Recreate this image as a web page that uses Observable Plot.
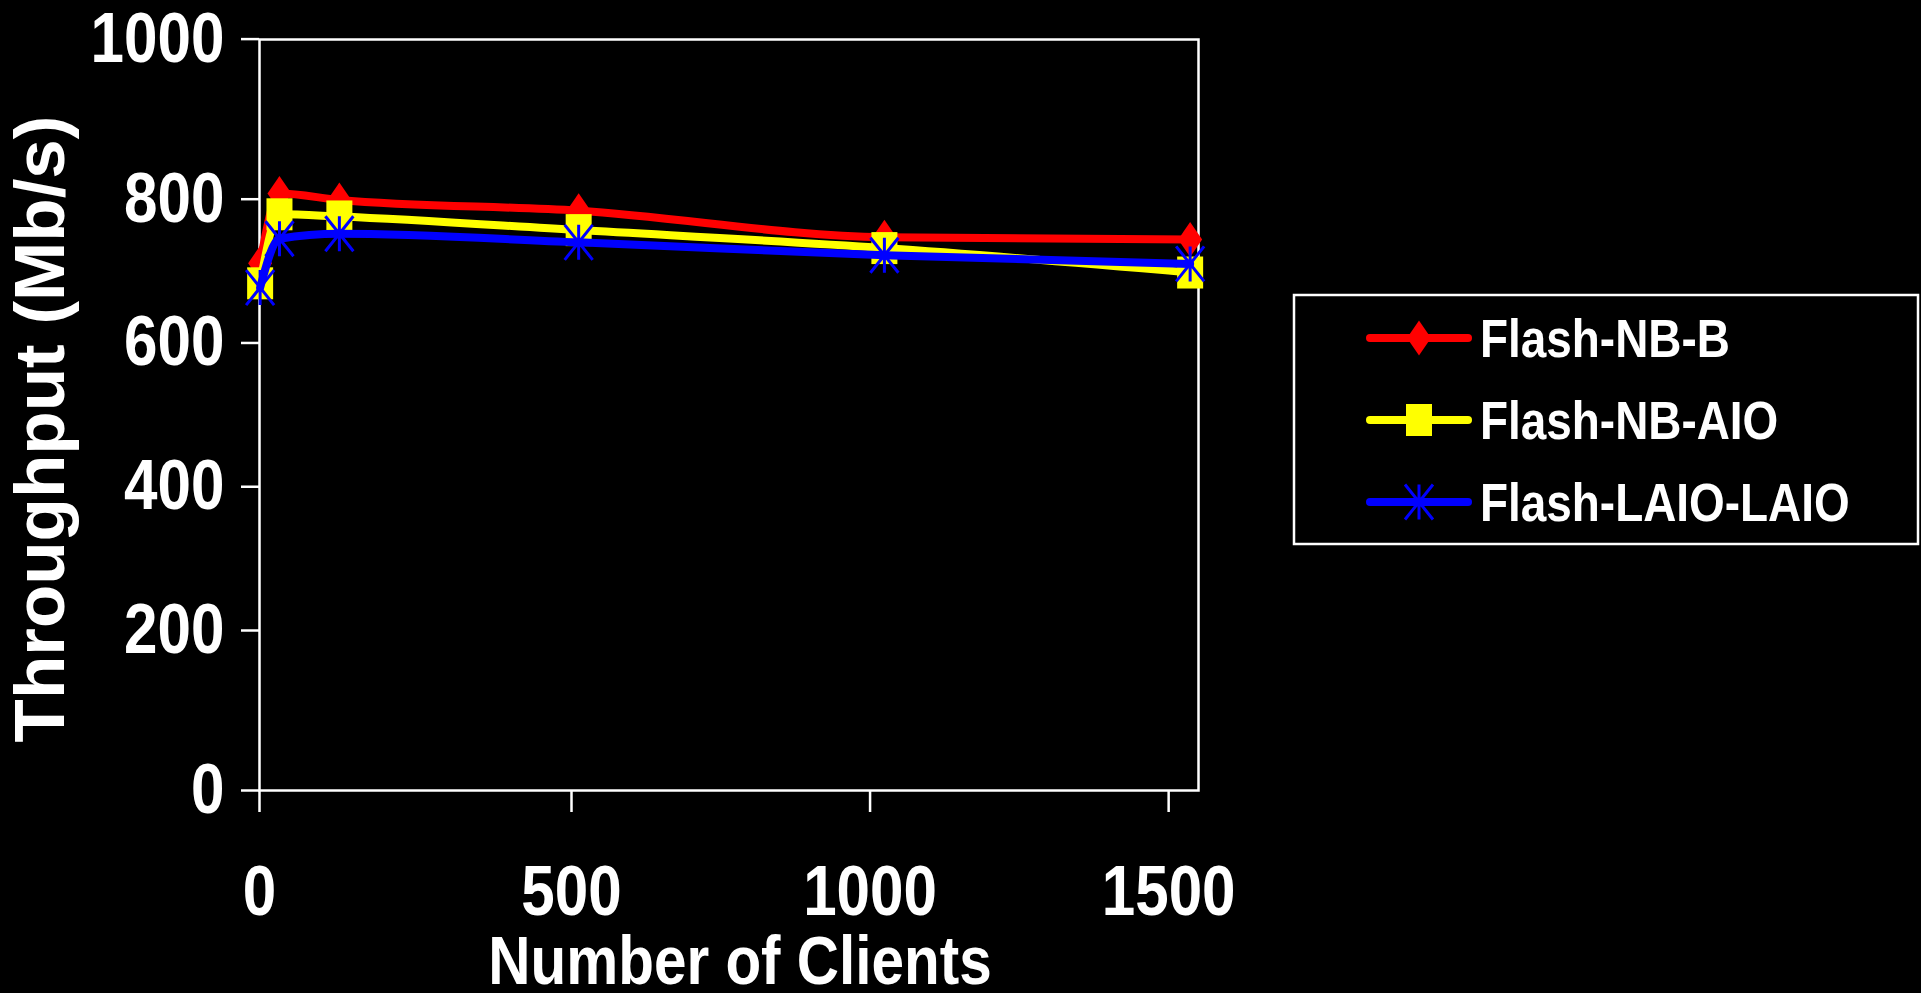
<!DOCTYPE html>
<html><head><meta charset="utf-8">
<style>
html,body{margin:0;padding:0;background:#000;}
#wrap{position:relative;width:1921px;height:993px;overflow:hidden;background:#000;}
#legend{position:absolute;left:0;top:0;}
#chart svg{display:block;}
</style>
<script src="https://cdn.jsdelivr.net/npm/d3@7"></script>
<script src="https://cdn.jsdelivr.net/npm/@observablehq/plot@0.6"></script>
</head><body><div id="wrap"><div id="chart"></div><svg id="legend" width="1921" height="993"></svg></div>
<script>
// ---- data ----
const clients = [1, 32, 128, 512, 1024, 1536];
const flashNBB = [711, 807, 799, 784, 747, 744];
const flashNBAIO = [683, 779, 776, 757, 732, 698];
const flashLAIOLAIO = [677, 745, 752, 740, 722, 710];
const seriesNames = ["Flash-NB-B", "Flash-NB-AIO", "Flash-LAIO-LAIO"];
const seriesValues = [flashNBB, flashNBAIO, flashLAIOLAIO];
const xTicks = [0, 500, 1000, 1500];
const yTicks = [0, 200, 400, 600, 800, 1000];
const xTitle = "Number of Clients";
const yTitle = "Throughput (Mb/s)";

// ---- styles ----
const colors = ["#ff0000", "#ffff00", "#0000ff"];
const FONT = "'Liberation Sans', Arial, Helvetica, sans-serif";
const SX = 0.86; // horizontal condensing of text

const diamondSym = {draw(c){ c.moveTo(0,-17.5); c.lineTo(12,0); c.lineTo(0,17.5); c.lineTo(-12,0); c.closePath(); }};
const squareSym = {draw(c){ c.rect(-13,-16,26,32); }};
const starSym = {draw(c){ c.moveTo(0,-17.5); c.lineTo(0,17.5); c.moveTo(-14,-17.5); c.lineTo(14,17.5); c.moveTo(14,-17.5); c.lineTo(-14,17.5); }};
const symbols = [diamondSym, squareSym, starSym];
const dotStyle = [
  {fill: colors[0], stroke: "none"},
  {fill: colors[1], stroke: "none"},
  {fill: "none", stroke: colors[2], strokeWidth: 3}
];

const rows = seriesNames.flatMap((name, s) =>
  clients.map((c, i) => ({series: name, clients: c, value: seriesValues[s][i]})));

const marks = [Plot.frame({stroke: "#fff", strokeWidth: 2.5})];
seriesNames.forEach((name, s) => {
  const d = rows.filter(r => r.series === name);
  marks.push(Plot.line(d, {x: "clients", y: "value", stroke: colors[s], strokeWidth: 8, curve: "monotone-x"}));
  marks.push(Plot.dot(d, {x: "clients", y: "value", symbol: symbols[s], r: 10, ...dotStyle[s]}));
});
marks.push(Plot.text([xTitle], {text: d => d, frameAnchor: "bottom", textAnchor: "middle", lineAnchor: "middle", dx: 11, dy: 172, fontSize: 68, fontWeight: "bold", fill: "#fff"}));
marks.push(Plot.text([yTitle], {text: d => d, frameAnchor: "left", textAnchor: "middle", rotate: -90, lineAnchor: "middle", dx: -218, dy: 14, fontSize: 71, fontWeight: "bold", fill: "#fff"}));

const plot = Plot.plot({
  width: 1921,
  height: 993,
  marginLeft: 259,
  marginRight: 723,
  marginTop: 39,
  marginBottom: 203,
  style: {background: "#000", color: "#fff", fontFamily: FONT, fontWeight: "bold", fontSize: "70px", overflow: "visible"},
  x: {type: "linear", domain: [0, 500, 1550], range: [259, 571, 1198], ticks: xTicks, tickSize: 22, tickPadding: 53, tickFormat: d => String(d), label: null},
  y: {type: "linear", domain: [0, 200, 800, 1000], range: [790, 630, 198.7, 38.6], ticks: yTicks, tickSize: 18, tickPadding: 17, tickFormat: d => String(d), label: null},
  marks
});
document.getElementById("chart").appendChild(plot);

// condense horizontal texts (scale about their anchor point), thicken ticks
plot.querySelectorAll("text").forEach(t => {
  const tr = t.getAttribute("transform");
  if (tr && tr.includes("rotate")) return;
  if (tr) {
    t.setAttribute("transform", `${tr} scale(${SX},1)`);
  } else {
    const xa = t.getAttribute("x");
    const x = xa && /^-?[\d.]+$/.test(xa) ? +xa : 0;
    t.setAttribute("x", 0);
    t.setAttribute("transform", `translate(${x},0) scale(${SX},1)`);
  }
  t.setAttribute("fill", "#fff");
});
plot.querySelectorAll("line").forEach(l => { l.setAttribute("stroke-width", 2.5); l.setAttribute("stroke", "#fff"); });
plot.querySelectorAll("g[aria-label$='tick'] path").forEach(p => { p.setAttribute("stroke-width", 2.5); p.setAttribute("stroke", "#fff"); });

// ---- legend ----
const lg = d3.select("#legend");
lg.append("rect").attr("x", 1294).attr("y", 295).attr("width", 624).attr("height", 249)
  .attr("fill", "none").attr("stroke", "#fff").attr("stroke-width", 2.5);
const rowY = [338, 420, 502];
seriesNames.forEach((name, s) => {
  const y = rowY[s];
  lg.append("line").attr("x1", 1370).attr("x2", 1468).attr("y1", y).attr("y2", y)
    .attr("stroke", colors[s]).attr("stroke-width", 8).attr("stroke-linecap", "round");
  lg.append("path").attr("d", d3.symbol(symbols[s])()).attr("transform", `translate(1419,${y})`)
    .attr("fill", dotStyle[s].fill).attr("stroke", dotStyle[s].stroke).attr("stroke-width", dotStyle[s].strokeWidth || 0);
  lg.append("text").text(name).attr("transform", `translate(1480,${y + 19.3}) scale(0.85,1)`)
    .attr("fill", "#fff").attr("font-family", FONT).attr("font-weight", "bold").attr("font-size", 54);
});
</script></body></html>
